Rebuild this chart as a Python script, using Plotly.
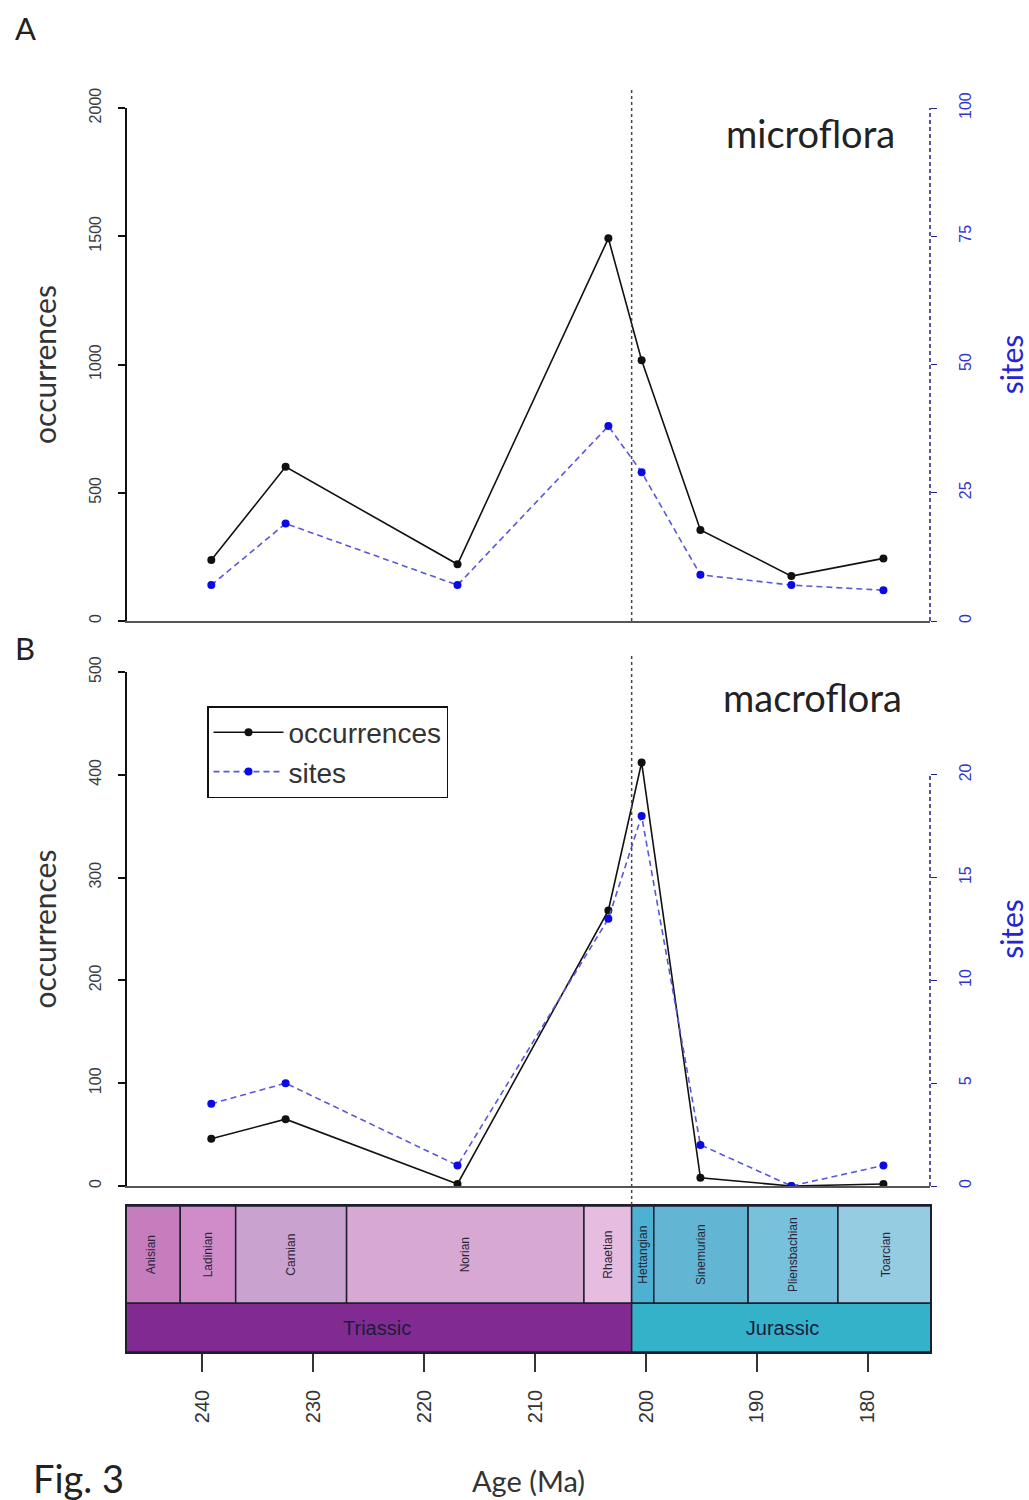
import plotly.graph_objects as go

W, H = 1029, 1500

# ---------------- data ----------------
ages = [239.2, 232.5, 217.0, 203.4, 200.4, 195.1, 186.9, 178.6]
micro_occ = [238, 601, 221, 1492, 1017, 355, 175, 244]
micro_sites = [7, 19, 7, 38, 29, 9, 7, 6]
macro_occ = [46, 65, 2, 268, 412, 8, 0, 2]
macro_sites = [4, 5, 1, 13, 18, 2, 0, 1]

stage_names = ["Anisian", "Ladinian", "Carnian", "Norian", "Rhaetian",
               "Hettangian", "Sinemurian", "Pliensbachian", "Toarcian"]
stage_start = [247.2, 242.0, 237.0, 227.0, 205.6, 201.3, 199.3, 190.8, 182.7]
stage_end = [242.0, 237.0, 227.0, 205.6, 201.3, 199.3, 190.8, 182.7, 174.1]
stage_colors = ["#C67DBE", "#D08CC9", "#C9A2CF", "#D7A9D2", "#E6BCE0",
                "#4DB1D3", "#62B6D4", "#78C1DC", "#95CCE1"]

period_names = ["Triassic", "Jurassic"]
period_start = [247.2, 201.3]
period_end = [201.3, 174.1]
period_colors = ["#812B92", "#34B2C9"]

TJ_BOUNDARY = 201.3
age_ticks = [240, 230, 220, 210, 200, 190, 180]
micro_occ_ticks = [0, 500, 1000, 1500, 2000]
micro_site_ticks = [0, 25, 50, 75, 100]
macro_occ_ticks = [0, 100, 200, 300, 400, 500]
macro_site_ticks = [0, 5, 10, 15, 20]

# ---------------- layout helpers ----------------
def px_x(p):
    return p / W

def px_y(p):
    return 1 - p / H

X_DOM = [px_x(127), px_x(930)]
X_RANGE = [246.8, 174.4]
A_DOM = [px_y(621), px_y(108)]
B_DOM = [px_y(1186), px_y(672)]
T_DOM = [px_y(1352), px_y(1206)]

CAL = "Lato, 'Open Sans', sans-serif"
ARI = "'Liberation Sans', Arial, sans-serif"

BLACK = "#111111"
BLUE_LINE = "#5858DA"
BLUE_MARK = "#0A0AE6"

fig = go.Figure()

def occ_trace(y, xa, ya, show):
    return go.Scatter(x=ages, y=y, xaxis=xa, yaxis=ya, mode="lines+markers",
                      name="occurrences", showlegend=show,
                      line=dict(color=BLACK, width=1.6),
                      marker=dict(color=BLACK, size=8))

def site_trace(y, xa, ya, show):
    return go.Scatter(x=ages, y=y, xaxis=xa, yaxis=ya, mode="lines+markers",
                      name="sites", showlegend=show,
                      line=dict(color=BLUE_LINE, width=1.6, dash="6px,4px"),
                      marker=dict(color=BLUE_MARK, size=8))

fig.add_trace(occ_trace(micro_occ, "x", "y", False))
fig.add_trace(site_trace(micro_sites, "x", "y2", False))
fig.add_trace(occ_trace(macro_occ, "x2", "y3", True))
fig.add_trace(site_trace(macro_sites, "x2", "y4", True))

# geological timescale
fig.add_trace(go.Bar(
    y=[2] * len(stage_names), base=stage_end,
    x=[s - e for s, e in zip(stage_start, stage_end)],
    orientation="h", width=2, xaxis="x3", yaxis="y5",
    marker=dict(color=stage_colors, line=dict(color="#1E1E2E", width=1.5)),
    text=stage_names, textposition="inside", insidetextanchor="middle",
    textangle=-90, constraintext="none",
    textfont=dict(size=12, color="#2A2438", family=ARI),
    showlegend=False, hoverinfo="skip"))
fig.add_trace(go.Bar(
    y=[0.5] * len(period_names), base=period_end,
    x=[s - e for s, e in zip(period_start, period_end)],
    orientation="h", width=1, xaxis="x3", yaxis="y5",
    marker=dict(color=period_colors, line=dict(color="#1E1E2E", width=1.5)),
    text=period_names, textposition="inside", insidetextanchor="middle",
    textangle=0, constraintext="none",
    textfont=dict(size=20, color="#1C1C3C", family=ARI),
    showlegend=False, hoverinfo="skip"))

left_axis = dict(showgrid=False, zeroline=False, showline=True, linecolor=BLACK,
                 linewidth=1.5, ticks="outside", ticklen=7, tickcolor=BLACK,
                 tickwidth=1.5, tickangle=-90, ticklabelstandoff=11,
                 automargin=False,
                 tickfont=dict(size=16, color="#3C3C3C", family=ARI),
                 title=dict(text="occurrences", standoff=21,
                            font=dict(size=30, color="#333333", family=CAL)))
right_axis = dict(showgrid=False, zeroline=False, showline=False, side="right",
                  ticks="outside", ticklen=6, tickcolor="#20208A", tickwidth=1.2,
                  tickangle=-90, ticklabelstandoff=15, automargin=False,
                  tickfont=dict(size=16, color="#3434CC", family=ARI),
                  title=dict(text="sites", standoff=30,
                             font=dict(size=30, color="#2424D0", family=CAL)))
panel_x = dict(domain=X_DOM, range=X_RANGE, showgrid=False, zeroline=False,
               showline=True, linecolor="#555555", linewidth=2,
               showticklabels=False, ticks="", automargin=False)

fig.update_layout(
    width=W, height=H, margin=dict(l=0, r=0, t=0, b=0, autoexpand=False),
    paper_bgcolor="white", plot_bgcolor="rgba(0,0,0,0)",
    barmode="overlay",
    xaxis=dict(panel_x, anchor="y"),
    xaxis2=dict(panel_x, anchor="y3"),
    xaxis3=dict(domain=X_DOM, range=X_RANGE, anchor="y5", showgrid=False,
                zeroline=False, showline=True, mirror=True, linecolor="#1E1E2E",
                linewidth=1.5, tickvals=age_ticks, ticks="outside", ticklen=18,
                tickcolor="#333333", tickwidth=1.5, tickangle=-90,
                ticklabelstandoff=10, automargin=False,
                tickfont=dict(size=20, color="#333333", family=ARI),
                title=dict(text="Age (Ma)", standoff=50,
                           font=dict(size=29, color="#333333", family=CAL))),
    yaxis=dict(left_axis, domain=A_DOM, range=[0, 2000], tickvals=micro_occ_ticks,
               anchor="x"),
    yaxis2=dict(right_axis, overlaying="y", range=[0, 100],
                tickvals=micro_site_ticks, anchor="x"),
    yaxis3=dict(left_axis, domain=B_DOM, range=[0, 500], tickvals=macro_occ_ticks,
                anchor="x2"),
    yaxis4=dict(right_axis, overlaying="y3", range=[0, 25],
                tickvals=macro_site_ticks, anchor="x2"),
    yaxis5=dict(domain=T_DOM, range=[0, 3], anchor="x3", showgrid=False,
                zeroline=False, showticklabels=False, showline=True, mirror=True,
                linecolor="#1E1E2E", linewidth=1.5, automargin=False),
    legend=dict(x=px_x(207), y=px_y(706), xanchor="left", yanchor="top",
                bgcolor="white", bordercolor=BLACK, borderwidth=1.5,
                font=dict(size=28, color="#333333", family=ARI),
                itemwidth=70, tracegroupgap=0),
    showlegend=True,
)

shapes = []
# dashed right axis lines
shapes.append(dict(type="line", xref="paper", x0=X_DOM[1], x1=X_DOM[1], yref="y2",
                   y0=micro_site_ticks[0], y1=micro_site_ticks[-1],
                   line=dict(color="#20208A", width=1.5, dash="4px,3px")))
shapes.append(dict(type="line", xref="paper", x0=X_DOM[1], x1=X_DOM[1], yref="y4",
                   y0=macro_site_ticks[0], y1=macro_site_ticks[-1],
                   line=dict(color="#20208A", width=1.5, dash="4px,3px")))
# Triassic/Jurassic boundary
shapes.append(dict(type="line", xref="x", x0=TJ_BOUNDARY, x1=TJ_BOUNDARY, yref="paper",
                   y0=px_y(621), y1=px_y(88),
                   line=dict(color="#444444", width=1.5, dash="dot")))
shapes.append(dict(type="line", xref="x", x0=TJ_BOUNDARY, x1=TJ_BOUNDARY, yref="paper",
                   y0=px_y(1205), y1=px_y(655),
                   line=dict(color="#444444", width=1.5, dash="dot")))
fig.update_layout(shapes=shapes)

ann = [
    dict(text="A", x=px_x(25), y=px_y(28), size=31),
    dict(text="B", x=px_x(25), y=px_y(648), size=31),
    dict(text="microflora", x=px_x(810), y=px_y(133), size=38),
    dict(text="macroflora", x=px_x(812), y=px_y(697), size=38),
    dict(text="Fig. 3", x=px_x(78), y=px_y(1478), size=38),
]
fig.update_layout(annotations=[
    dict(text=a["text"], x=a["x"], y=a["y"], xref="paper", yref="paper",
         showarrow=False, xanchor="center", yanchor="middle",
         font=dict(size=a["size"], color="#222222", family=CAL))
    for a in ann])

fig.write_html("out.html", config={"displayModeBar": False},
               post_script="document.body.style.margin='0';"
                           "document.body.style.padding='0';")
